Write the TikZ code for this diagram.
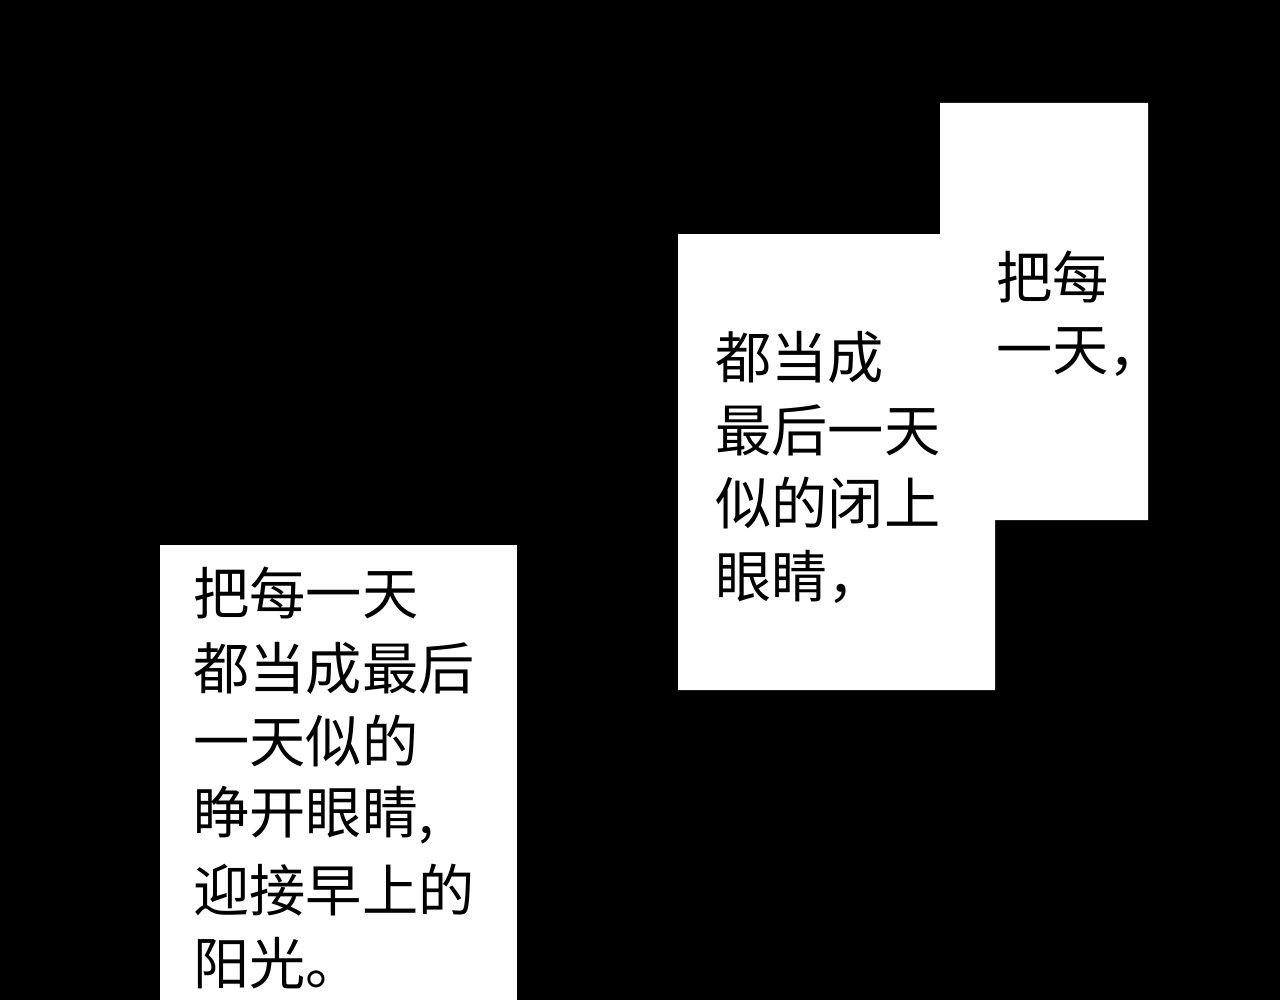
\documentclass[tikz,border=0pt]{standalone}
\usepackage{fontspec}
\newfontfamily\cjk{Noto Sans CJK SC}
\begin{document}
\begin{tikzpicture}[x=0.02cm,y=-0.02cm,
  txt/.style={anchor=west,inner sep=0pt,font=\cjk\fontsize{32}{32}\selectfont,text=black}]
\useasboundingbox (0,0) rectangle (1280,1000);
\fill[black] (0,0) rectangle (1280,1000);
\fill[white] (160,545) rectangle (517,1000);
\fill[white] (678,234) -- (940,234) -- (940,103) -- (1148,103) -- (1148,520) -- (995,520) -- (995,690) -- (678,690) -- cycle;
\node[txt] (l1) at (193,593) {把每一天};
\node[txt] (l2) at (193,668) {都当成最后};
\node[txt] (l3) at (193,741) {一天似的};
\node[txt] (l4) at (193,815) {睁开眼睛,};
\node[txt] (l5) at (193,890) {迎接早上的};
\node[txt] (l6) at (193,963) {阳光。};
\node[txt] (r1) at (996,277) {把每};
\node[txt] (r2) at (996,352) {一天，};
\node[txt] (m1) at (715,357) {都当成};
\node[txt] (m2) at (715,430) {最后一天};
\node[txt] (m3) at (715,503) {似的闭上};
\node[txt] (m4) at (715,577) {眼睛，};
\end{tikzpicture}
\end{document}
